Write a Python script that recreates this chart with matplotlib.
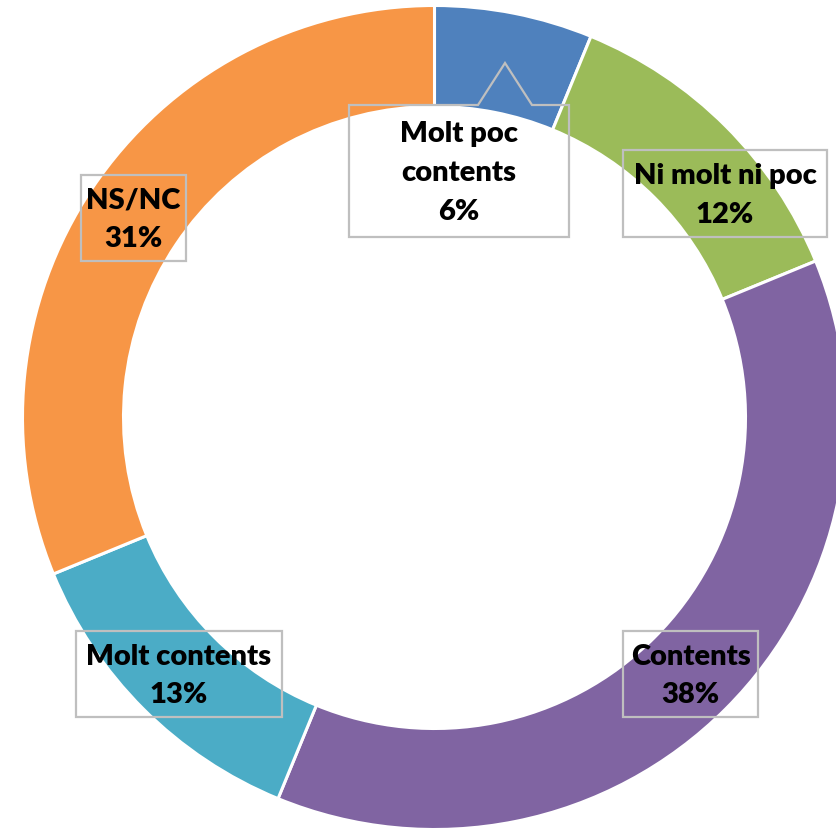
import matplotlib.pyplot as plt
from matplotlib.patches import Polygon, Rectangle

categories = ["Molt poc\ncontents", "Ni molt ni poc", "Contents", "Molt contents", "NS/NC"]
shares = [6.2, 12.6, 37.4, 12.6, 31.2]
percent_labels = ["6%", "12%", "38%", "13%", "31%"]
colors = ["#4F81BD", "#9BBB59", "#8064A2", "#4BACC6", "#F79646"]

W, H = 836, 830
cx, cy = 434.5, 417.5
outer, ring = 412, 101

# label boxes in pixel coords (left, top, right, bottom)
boxes = [
    (349, 105, 569, 237),
    (623, 150, 827, 237),
    (623, 631, 758, 717),
    (76, 631, 282, 717),
    (81, 175, 186, 261),
]

fig = plt.figure(figsize=(W / 100, H / 100), dpi=100)
ax = fig.add_axes([0, 0, 1, 1])

# y axis is inverted below, so counterclock=True appears clockwise on screen
ax.pie(shares, colors=colors, startangle=-90, counterclock=True,
       center=(cx, cy), radius=outer, frame=True,
       wedgeprops=dict(width=ring, edgecolor="white", linewidth=2.2))
ax.set_xlim(0, W)
ax.set_ylim(H, 0)
ax.set_aspect("equal")
ax.axis("off")

edge = "#BFBFBF"
for i, (l, t, r, b) in enumerate(boxes):
    if i == 0:
        pts = [(l, t), (478, t), (505, 63), (532, t), (r, t), (r, b), (l, b)]
        ax.add_patch(Polygon(pts, closed=True, fill=False, edgecolor=edge, linewidth=1.6, zorder=5))
    else:
        ax.add_patch(Rectangle((l, t), r - l, b - t, fill=False, edgecolor=edge, linewidth=1.6, zorder=5))
    ax.text((l + r) / 2, (t + b) / 2 + 2, categories[i] + "\n" + percent_labels[i],
            ha="center", va="center", fontsize=21, fontweight="heavy", family="Lato",
            linespacing=1.6, color="black", zorder=6)

fig.savefig("out.png", dpi=100)
